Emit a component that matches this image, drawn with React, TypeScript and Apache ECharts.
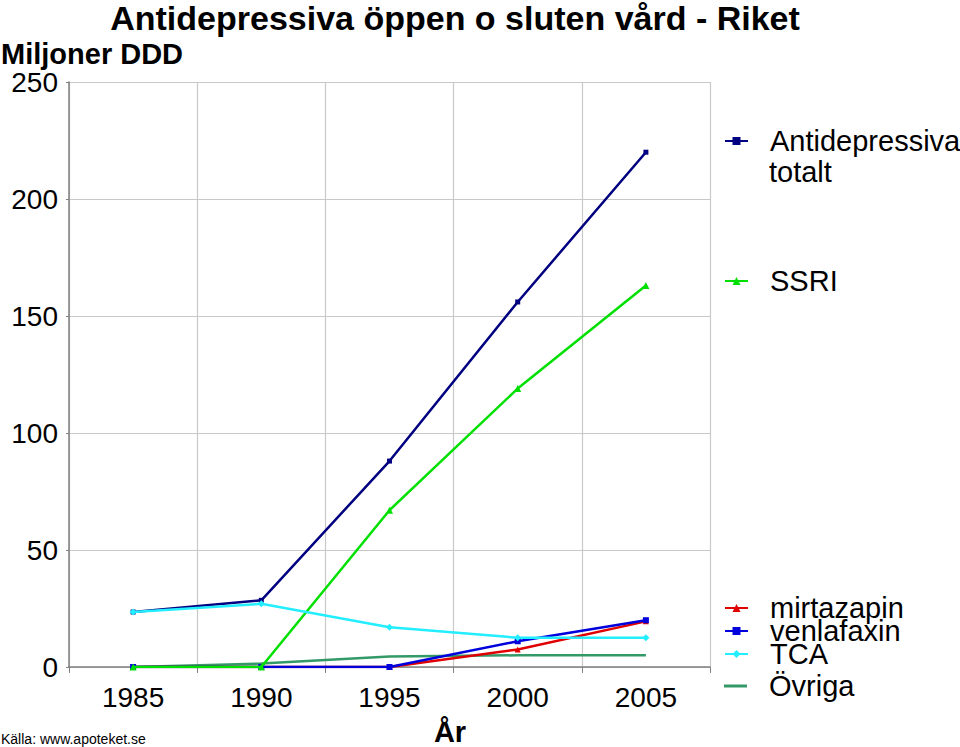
import React, { useEffect, useRef } from "react";
import * as echarts from "echarts";

const years = ["1985", "1990", "1995", "2000", "2005"];
const totalt = [23.5, 28.5, 88, 156, 220];
const ssri = [0, 0, 67, 119, 163];
const mirtazapin = [0, 0, 0, 7.5, 19.5];
const venlafaxin = [0, 0, 0, 11, 20];
const tca = [23.5, 27, 17, 12.5, 12.5];
const ovriga = [0, 1.5, 4.5, 5, 5];

const FONT = "Liberation Sans, Arial, Helvetica, sans-serif";

export default function App() {
  const ref = useRef<HTMLDivElement>(null);
  useEffect(() => {
    if (!ref.current) return;
    const chart = echarts.init(ref.current, null, { renderer: "svg" });
    const mk = (name: string, data: number[], color: string, symbol: string, size: number, z: number) => ({
      name,
      type: "line",
      data,
      z,
      symbol,
      symbolSize: size,
      showSymbol: symbol !== "none",
      lineStyle: { color, width: 2.5 },
      itemStyle: { color },
    });
    const lg = (name: string, center: number, extra: any = {}) => ({
      orient: "vertical",
      left: 724,
      top: center - 15,
      padding: 0,
      itemWidth: 23,
      itemHeight: 10,
      itemGap: 0,
      data: [name],
      textStyle: { fontFamily: FONT, fontSize: 29, lineHeight: 30, color: "#000", padding: [0, 0, 0, 17] },
      ...extra,
    });
    const txt = (text: string, x: number, y: number, size: number, bold: boolean, align: string) => ({
      type: "text",
      x,
      y,
      style: {
        text,
        fontFamily: FONT,
        fontSize: size,
        lineHeight: Math.round(size * 0.9),
        fontWeight: bold ? "bold" : "normal",
        fill: "#000",
        align,
        verticalAlign: "middle",
      },
    });
    chart.setOption({
      animation: false,
      backgroundColor: "#fff",
      graphic: [
        txt("Antidepressiva öppen o sluten vård - Riket", 455, 18, 34, true, "center"),
        txt("Miljoner DDD", 1, 54, 29, true, "left"),
        txt("totalt", 769, 172, 29, false, "left"),
        txt("År", 450, 732, 29, true, "center"),
        txt("Källa: www.apoteket.se", 1, 739, 14, false, "left"),
      ],
      legend: [
        lg("Antidepressiva totalt", 141, { formatter: () => "Antidepressiva" }),
        lg("SSRI", 281),
        lg("mirtazapin", 608),
        lg("venlafaxin", 631),
        lg("TCA", 654),
        lg("Övriga", 686, { itemHeight: 3, data: [{ name: "Övriga", icon: "rect" }] }),
      ],
      grid: { left: 69, right: 250, top: 82, bottom: 80, containLabel: false },
      xAxis: {
        type: "category",
        data: years,
        boundaryGap: true,
        axisLine: { lineStyle: { color: "#808080", width: 1.5 } },
        axisTick: { show: true, length: 6, lineStyle: { color: "#808080" } },
        axisLabel: { fontFamily: FONT, fontSize: 28, color: "#000", margin: 16 },
        splitLine: { show: true, lineStyle: { color: "#c8c8c8", width: 1.2 } },
      },
      yAxis: {
        type: "value",
        min: 0,
        max: 250,
        interval: 50,
        axisLine: { show: true, lineStyle: { color: "#808080", width: 1.5 } },
        axisTick: { show: true, length: 3, lineStyle: { color: "#808080" } },
        axisLabel: { fontFamily: FONT, fontSize: 28, color: "#000", margin: 11, padding: [10, 0, 0, 0] },
        splitLine: { show: true, lineStyle: { color: "#c8c8c8", width: 1.2 } },
      },
      series: [
        mk("Antidepressiva totalt", totalt, "#000080", "rect", 5, 6),
        mk("SSRI", ssri, "#00e000", "triangle", 7, 5),
        mk("mirtazapin", mirtazapin, "#e00000", "triangle", 6, 3),
        mk("venlafaxin", venlafaxin, "#0000dd", "rect", 6, 4),
        mk("TCA", tca, "#22eeff", "diamond", 7, 7),
        mk("Övriga", ovriga, "#339966", "none", 0, 2),
      ],
    });
    return () => chart.dispose();
  }, []);
  return <div ref={ref} style={{ position: "absolute", left: 0, top: 0, width: 960, height: 747 }} />;
}
